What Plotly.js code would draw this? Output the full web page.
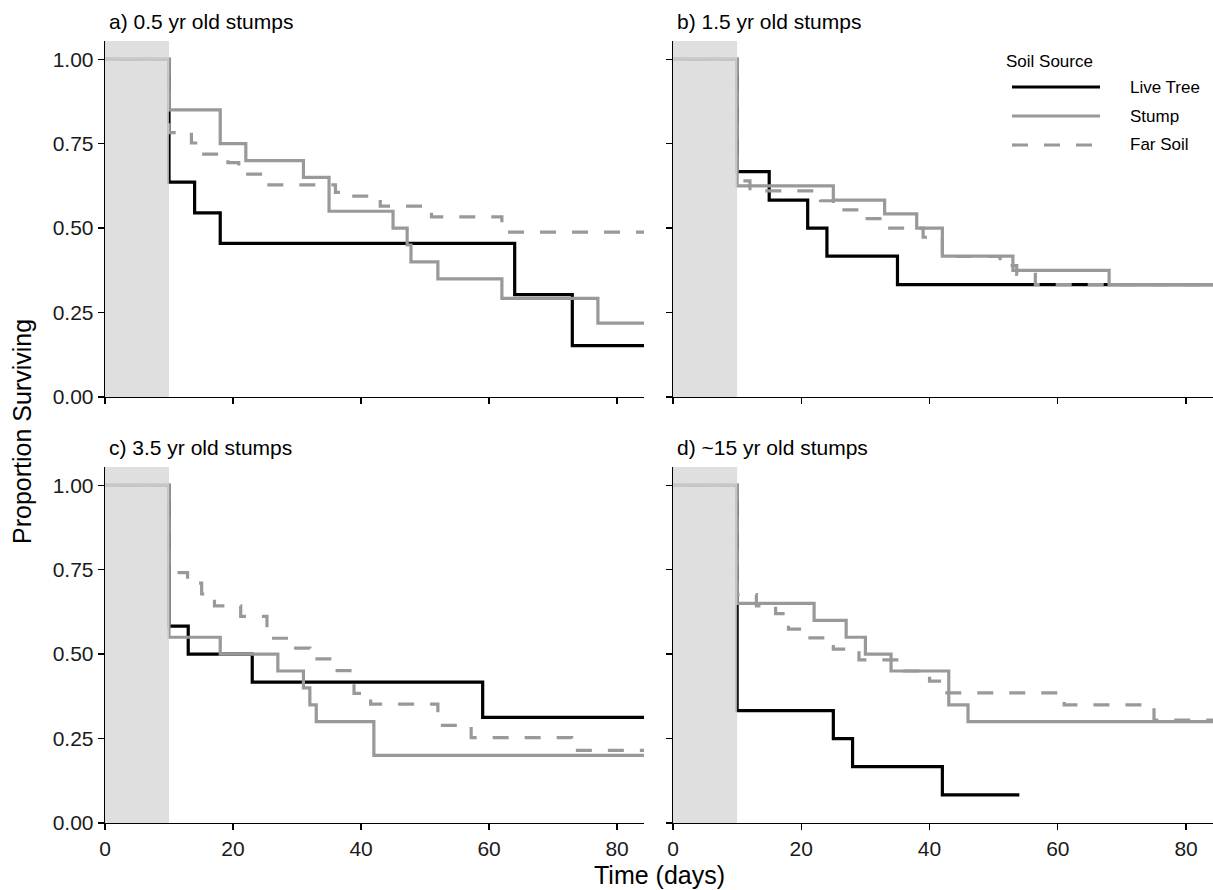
<!DOCTYPE html>
<html>
<head>
<meta charset="utf-8">
<script src="https://cdn.plot.ly/plotly-3.0.1.min.js"></script>
<style>
  html, body { margin: 0; padding: 0; background: #ffffff; }
  #chart { width: 1213px; height: 890px; }
</style>
</head>
<body>
<div id="chart"></div>
<script>
// Kaplan-Meier style survival of seedlings by soil source, four stump ages.
const panelTitles = ['a) 0.5 yr old stumps', 'b) 1.5 yr old stumps', 'c) 3.5 yr old stumps', 'd) ~15 yr old stumps'];
const sourceNames = ['Live Tree', 'Stump', 'Far Soil'];
const xTickVals = [0, 20, 40, 60, 80];
const yTickVals = [0, 0.25, 0.5, 0.75, 1];
const yTickText = ['0.00', '0.25', '0.50', '0.75', '1.00'];
const establishDays = 10;      // shaded establishment period (days)
const lastDay = 84.2;

// a) 0.5 yr old stumps
const aLiveDays  = [0, 10, 14, 18, 64, 73, 84.2];
const aLiveSurv  = [1, 0.636, 0.545, 0.455, 0.303, 0.152, 0.152];
const aStumpDays = [0, 10, 18, 22, 31, 35, 45, 47.2, 47.8, 52, 62, 77, 84.2];
const aStumpSurv = [1, 0.85, 0.75, 0.70, 0.65, 0.55, 0.50, 0.45, 0.40, 0.35, 0.292, 0.219, 0.219];
const aFarDays   = [0, 10, 13.5, 15.1, 19.2, 20.9, 24.9, 36, 37.5, 43, 51, 62, 84.2];
const aFarSurv   = [1, 0.783, 0.752, 0.719, 0.694, 0.660, 0.628, 0.606, 0.595, 0.565, 0.533, 0.488, 0.488];

// b) 1.5 yr old stumps
const bLiveDays  = [0, 10, 15, 21, 24, 35, 84.2];
const bLiveSurv  = [1, 0.667, 0.583, 0.5, 0.417, 0.333, 0.333];
const bStumpDays = [0, 10, 25, 33, 38, 42, 53, 68, 84.2];
const bStumpSurv = [1, 0.625, 0.583, 0.542, 0.5, 0.417, 0.375, 0.333, 0.333];
const bFarDays   = [0, 10, 12, 23, 25, 29, 33, 39, 42, 51, 53.6, 56.5, 84.2];
const bFarSurv   = [1, 0.64, 0.61, 0.581, 0.554, 0.528, 0.5, 0.473, 0.416, 0.389, 0.363, 0.333, 0.333];

// c) 3.5 yr old stumps
const cLiveDays  = [0, 10, 13, 23, 59, 84.2];
const cLiveSurv  = [1, 0.583, 0.5, 0.417, 0.3125, 0.3125];
const cStumpDays = [0, 10, 18, 27, 31, 32, 33, 42, 84.2];
const cStumpSurv = [1, 0.55, 0.5, 0.45, 0.4, 0.35, 0.3, 0.2, 0.2];
const cFarDays   = [0, 10, 12.9, 15.1, 17.1, 21.2, 25.3, 29.8, 32, 35.7, 38.9, 41.5, 52, 57.2, 72.9, 84.2];
const cFarSurv   = [1, 0.741, 0.710, 0.678, 0.643, 0.612, 0.547, 0.518, 0.486, 0.451, 0.384, 0.352, 0.289, 0.253, 0.215, 0.215];

// d) ~15 yr old stumps
const dLiveDays  = [0, 10, 25, 28, 42, 54];
const dLiveSurv  = [1, 0.333, 0.25, 0.167, 0.083, 0.083];
const dStumpDays = [0, 10, 22, 27, 30, 34, 43, 46, 84.2];
const dStumpSurv = [1, 0.65, 0.6, 0.55, 0.5, 0.45, 0.35, 0.3, 0.3];
const dFarDays   = [0, 10, 13, 16, 18, 21, 25, 29, 35.5, 40, 42.1, 61, 75, 84.2];
const dFarSurv   = [1, 0.676, 0.643, 0.62, 0.574, 0.548, 0.515, 0.483, 0.45, 0.42, 0.385, 0.35, 0.305, 0.305];

const panels = [
  [[aLiveDays, aLiveSurv], [aStumpDays, aStumpSurv], [aFarDays, aFarSurv]],
  [[bLiveDays, bLiveSurv], [bStumpDays, bStumpSurv], [bFarDays, bFarSurv]],
  [[cLiveDays, cLiveSurv], [cStumpDays, cStumpSurv], [cFarDays, cFarSurv]],
  [[dLiveDays, dLiveSurv], [dStumpDays, dStumpSurv], [dFarDays, dFarSurv]]
];

// styling
const FONT = 'Liberation Sans, Arial, Helvetica, sans-serif';
const lineStyles = [
  { color: '#000000', width: 3.2, dash: 'solid' },
  { color: '#999999', width: 3.2, dash: 'solid' },
  { color: '#999999', width: 3.2, dash: '16px,16px' }
];
const TICK_SIZE = 21, PANEL_TITLE_SIZE = 21, AXIS_TITLE_SIZE = 25, LEGEND_SIZE = 17;

// page geometry (pixels)
const W = 1213, H = 890;
const M = { l: 105, r: 0, t: 41, b: 67 };
const plotW = W - M.l - M.r, plotH = H - M.t - M.b;
const px2x = px => (px - M.l) / plotW;
const px2y = py => (H - M.b - py) / plotH;

const xDomains = [[0, px2x(644)], [px2x(673), 1]];
const yDomains = [[px2y(397), 1], [0, px2y(467)]];

const traces = [];
const shapes = [];
const annotations = [];
const layout = {
  width: W, height: H,
  margin: M,
  paper_bgcolor: '#ffffff',
  plot_bgcolor: '#ffffff',
  showlegend: false,
  font: { family: FONT, color: '#000000' }
};

panels.forEach((series, i) => {
  const col = i % 2, row = Math.floor(i / 2);
  const sfx = i === 0 ? '' : String(i + 1);
  const xName = 'x' + sfx, yName = 'y' + sfx;

  layout['xaxis' + sfx] = {
    domain: xDomains[col], anchor: yName, range: [0, lastDay],
    tickmode: 'array', tickvals: xTickVals, showticklabels: row === 1,
    ticks: 'outside', ticklen: 6, tickwidth: 1.3, tickcolor: '#000000',
    showline: true, linecolor: '#000000', linewidth: 1.3,
    showgrid: false, zeroline: false, fixedrange: true,
    tickfont: { family: FONT, size: TICK_SIZE, color: '#1a1a1a' }
  };
  layout['yaxis' + sfx] = {
    domain: yDomains[row], anchor: xName, range: [0, 1.054],
    tickmode: 'array', tickvals: yTickVals, ticktext: yTickText, showticklabels: col === 0,
    ticks: 'outside', ticklen: 6, tickwidth: 1.3, tickcolor: '#000000',
    showline: true, linecolor: '#000000', linewidth: 1.3,
    showgrid: false, zeroline: false, fixedrange: true,
    tickfont: { family: FONT, size: TICK_SIZE, color: '#1a1a1a' }
  };

  series.forEach((s, k) => {
    traces.push({
      type: 'scatter', mode: 'lines', name: sourceNames[k],
      x: s[0], y: s[1], xaxis: xName, yaxis: yName,
      line: { shape: 'hv', color: lineStyles[k].color, width: lineStyles[k].width, dash: lineStyles[k].dash },
      hoverinfo: 'skip'
    });
  });

  // establishment period band, laid over the curves
  shapes.push({
    type: 'rect', xref: xName, yref: yName + ' domain',
    x0: 0, x1: establishDays, y0: 0, y1: 1,
    fillcolor: 'rgb(214,214,214)', opacity: 0.77, line: { width: 0 }, layer: 'above'
  });

  annotations.push({
    text: panelTitles[i], xref: 'paper', yref: 'paper',
    x: xDomains[col][0] + px2x(107) - px2x(105), y: yDomains[row][1],
    xanchor: 'left', yanchor: 'bottom', yshift: 6, showarrow: false,
    font: { family: FONT, size: PANEL_TITLE_SIZE, color: '#000000' }
  });
});

// axis titles
annotations.push({
  text: 'Proportion Surviving', xref: 'paper', yref: 'paper',
  x: px2x(22), y: 0.5, textangle: -90, showarrow: false,
  xanchor: 'center', yanchor: 'middle',
  font: { family: FONT, size: AXIS_TITLE_SIZE, color: '#000000' }
});
annotations.push({
  text: 'Time (days)', xref: 'paper', yref: 'paper',
  x: 0.5, y: px2y(875), showarrow: false,
  xanchor: 'center', yanchor: 'middle',
  font: { family: FONT, size: AXIS_TITLE_SIZE, color: '#000000' }
});

// legend: title, key lines and labels inside panel b
annotations.push({
  text: 'Soil Source', xref: 'paper', yref: 'paper',
  x: px2x(1004), y: px2y(62), xanchor: 'left', yanchor: 'middle', showarrow: false,
  font: { family: FONT, size: LEGEND_SIZE, color: '#000000' }
});
const keyRows = [87, 116, 145];
sourceNames.forEach((name, k) => {
  shapes.push({
    type: 'line', xref: 'paper', yref: 'paper',
    x0: px2x(1012), x1: px2x(1100), y0: px2y(keyRows[k]), y1: px2y(keyRows[k]),
    line: { color: lineStyles[k].color, width: lineStyles[k].width, dash: lineStyles[k].dash }
  });
  annotations.push({
    text: name, xref: 'paper', yref: 'paper',
    x: px2x(1128), y: px2y(keyRows[k]), xanchor: 'left', yanchor: 'middle', showarrow: false,
    font: { family: FONT, size: LEGEND_SIZE, color: '#000000' }
  });
});

layout.shapes = shapes;
layout.annotations = annotations;

Plotly.newPlot('chart', traces, layout, { displayModeBar: false, staticPlot: true });
</script>
</body>
</html>
